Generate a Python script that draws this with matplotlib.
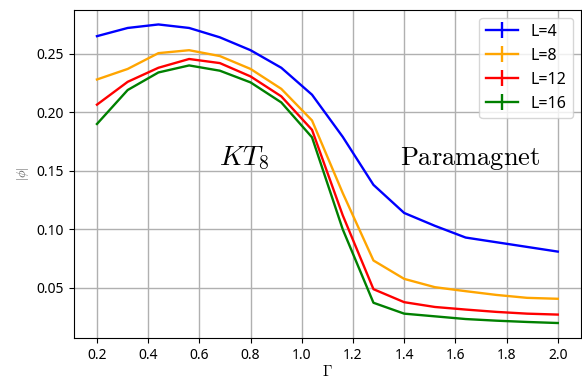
import numpy as np
import matplotlib
matplotlib.use("Agg")
import matplotlib.pyplot as plt

plt.rcParams["font.family"] = ["Noto Sans", "DejaVu Sans"]
plt.rcParams["mathtext.fontset"] = "cm"

gamma = [0.2, 0.32, 0.44, 0.56, 0.68, 0.8, 0.92, 1.04, 1.16, 1.28, 1.4, 1.52, 1.64, 1.76, 1.88, 2.0]

phi_L4 = [0.265, 0.272, 0.275, 0.272, 0.264, 0.253, 0.238, 0.215, 0.179, 0.138,
          0.114, 0.103, 0.093, 0.089, 0.085, 0.081]
phi_L8 = [0.228, 0.237, 0.2505, 0.253, 0.248, 0.237, 0.220, 0.193, 0.131, 0.0734,
          0.0577, 0.0506, 0.0472, 0.044, 0.0415, 0.0407]
phi_L12 = [0.2065, 0.226, 0.238, 0.2455, 0.242, 0.2306, 0.2136, 0.185, 0.112, 0.0489,
           0.0378, 0.0337, 0.0315, 0.0295, 0.028, 0.0272]
phi_L16 = [0.190, 0.219, 0.234, 0.240, 0.2355, 0.2255, 0.2084, 0.1786, 0.100, 0.0373,
           0.028, 0.0257, 0.0234, 0.022, 0.0209, 0.020]

# error bars are too small to see in the figure
err = np.zeros(len(gamma))

series = [("L=4", phi_L4, "blue"), ("L=8", phi_L8, "orange"),
          ("L=12", phi_L12, "red"), ("L=16", phi_L16, "green")]

fig = plt.figure(figsize=(5.82, 3.81), dpi=100)
ax = fig.add_axes([0.127, 0.113, 0.871, 0.862])

for label, vals, color in series:
    ax.errorbar(gamma, vals, yerr=err, color=color, lw=1.7, label=label)

ax.grid(True, color="#b0b0b0", lw=1.0)
ax.set_axisbelow(True)
ax.set_xticks([0.2, 0.4, 0.6, 0.8, 1.0, 1.2, 1.4, 1.6, 1.8, 2.0])
ax.set_xlabel(r"$\Gamma$", fontsize=11, labelpad=2)
ax.set_ylabel(r"$|\phi|$", fontsize=9, color="#555555")
ax.tick_params(labelsize=10)

ax.text(0.675, 0.155, r"$KT_8$", fontsize=20)
ax.text(1.385, 0.155, r"$\mathrm{Paramagnet}$", fontsize=19)

ax.legend(loc="upper right", fontsize=11.5)

fig.savefig("out.png")
